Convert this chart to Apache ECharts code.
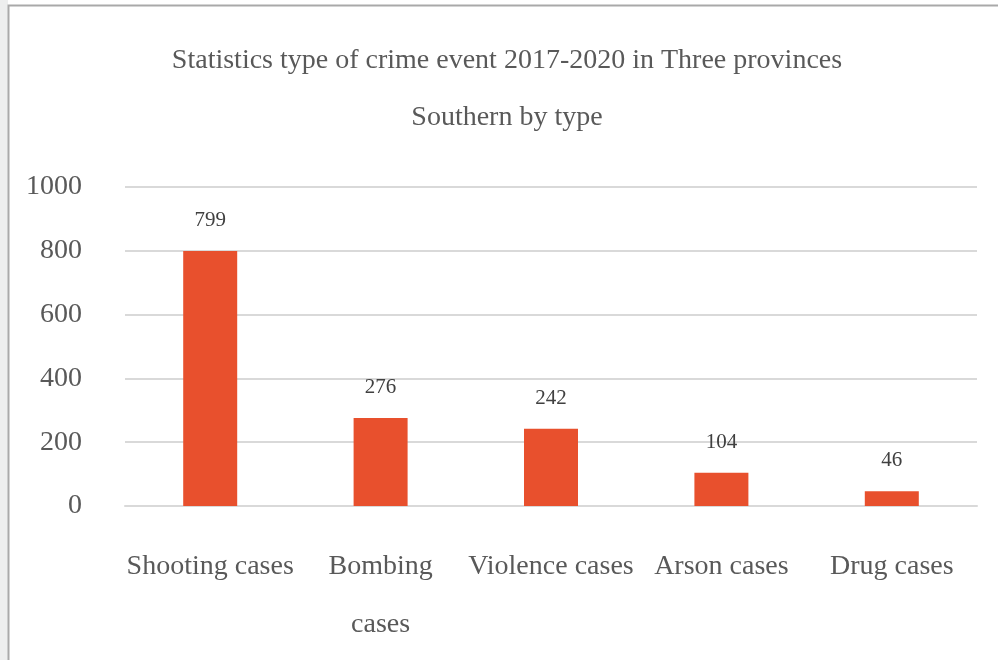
<!DOCTYPE html>
<html>
<head>
<meta charset="utf-8">
<script src="https://cdn.jsdelivr.net/npm/echarts@6/dist/echarts.min.js"></script>
<style>
  html, body { margin: 0; padding: 0; background: #fff; }
  #chart { width: 998px; height: 660px; }
</style>
</head>
<body>
<div id="chart"></div>
<script>
var categories = ['Shooting cases', 'Bombing cases', 'Violence cases', 'Arson cases', 'Drug cases'];
var caseCounts = [799, 276, 242, 104, 46];
var yTicks = [0, 200, 400, 600, 800, 1000];
var titleText = 'Statistics type of crime event 2017-2020 in Three provinces\nSouthern by type';

var serif = '"Liberation Serif", "DejaVu Serif", serif';
var myChart = echarts.init(document.getElementById('chart'));

myChart.setOption({
  animation: false,
  backgroundColor: '#fff',
  title: {
    text: titleText,
    left: 507,
    top: 32,
    padding: 0,
    textAlign: 'center',
    textStyle: {
      fontFamily: serif,
      fontSize: 28,
      fontWeight: 'normal',
      color: '#595959',
      lineHeight: 57
    }
  },
  graphic: [
    // page strip to the left of the chart frame
    {type: 'rect', shape: {x: 0, y: 0, width: 8, height: 660}, style: {fill: '#edeeee'}, silent: true},
    // chart frame
    {type: 'rect', shape: {x: 8.5, y: 5.5, width: 1000, height: 700},
      style: {fill: null, stroke: '#a9a9a9', lineWidth: 2}, silent: true}
  ],
  grid: {
    left: 125,
    right: 21,
    top: 187,
    bottom: 154
  },
  xAxis: {
    type: 'category',
    data: categories,
    axisTick: {show: false},
    axisLine: {lineStyle: {color: '#d9d9d9', width: 2}},
    axisLabel: {
      interval: 0,
      margin: 32,
      fontFamily: serif,
      fontSize: 28,
      color: '#595959',
      lineHeight: 58,
      formatter: function (v) {
        return v === 'Bombing cases' ? 'Bombing\ncases' : v;
      }
    }
  },
  yAxis: {
    type: 'value',
    min: yTicks[0],
    max: yTicks[yTicks.length - 1],
    interval: yTicks[1] - yTicks[0],
    axisLine: {show: false},
    axisTick: {show: false},
    splitLine: {lineStyle: {color: '#d9d9d9', width: 2}},
    axisLabel: {
      margin: 43,
      fontFamily: serif,
      fontSize: 28,
      color: '#595959',
      formatter: function (v) { return String(v); }
    }
  },
  series: [{
    type: 'bar',
    data: caseCounts,
    barWidth: 54,
    itemStyle: {color: '#e8502d'},
    label: {
      show: true,
      position: 'top',
      distance: 20,
      fontFamily: serif,
      fontSize: 21,
      color: '#404040'
    }
  }]
});
</script>
</body>
</html>
